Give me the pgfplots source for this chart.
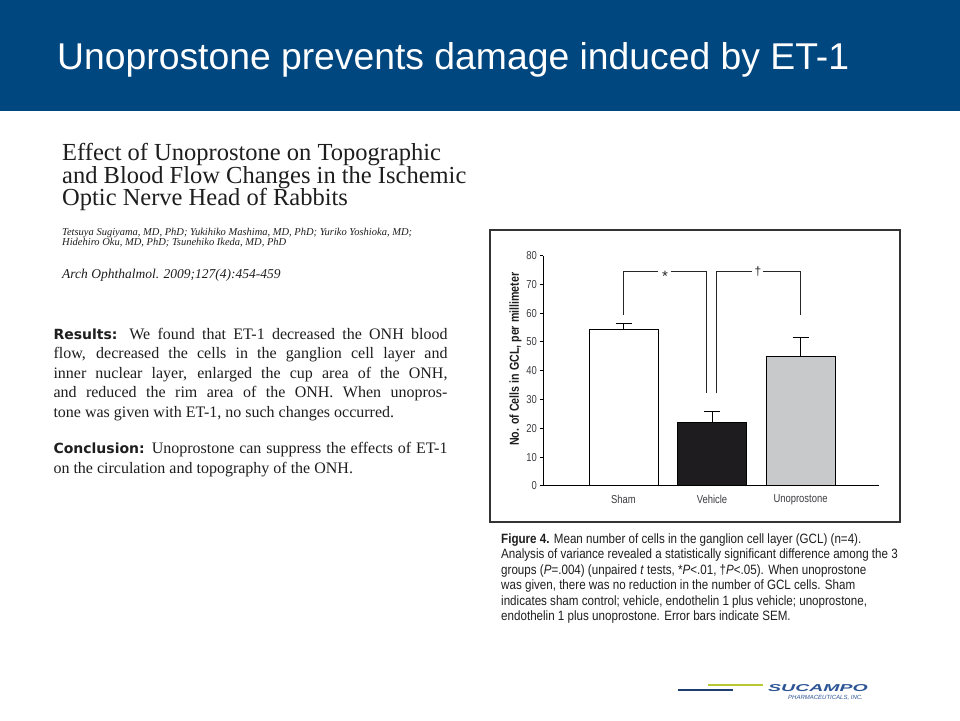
\documentclass[border=0pt]{standalone}
\usepackage{fontspec}
\setmainfont{Liberation Serif}
\newfontfamily\arial{Liberation Sans}
\newfontfamily\narrow[FakeStretch=0.82]{Liberation Sans}
\newfontfamily\capt[FakeStretch=0.86]{Liberation Sans}
\newfontfamily\dvb{DejaVu Sans}
\usepackage{pgfplots}
\pgfplotsset{compat=1.18}
\definecolor{hdr}{RGB}{0,70,127}
\definecolor{txt}{RGB}{30,30,30}
\definecolor{tick}{RGB}{60,60,64}
\definecolor{ugray}{RGB}{200,201,203}
\definecolor{barblack}{RGB}{30,28,30}
\definecolor{logoblue}{RGB}{30,62,112}
\definecolor{logotext}{RGB}{45,85,150}
\definecolor{logogreen}{RGB}{184,200,50}
\newcommand{\res}[1]{{\dvb\bfseries\fontsize{14}{16}\selectfont #1}}
\begin{document}
\begin{tikzpicture}
\fill[white] (0,0) rectangle (960pt,720pt);
\path[use as bounding box] (0,0) rectangle (960pt,720pt);
\fill[hdr] (0,609pt) rectangle (960pt,720pt);
\node[anchor=base west, inner sep=0, text=white, font=\arial\fontsize{37.3}{40}\selectfont] at (57pt,650pt) {Unoprostone prevents damage induced by ET-1};
% left title
\begin{scope}[every node/.style={anchor=base west, inner sep=0, text=txt}]
\node[font=\fontsize{24.5}{26}\selectfont] at (62pt,559.5pt) {Effect of Unoprostone on Topographic};
\node[font=\fontsize{24.5}{26}\selectfont] at (62pt,536.5pt) {and Blood Flow Changes in the Ischemic};
\node[font=\fontsize{24.5}{26}\selectfont] at (62pt,514pt) {Optic Nerve Head of Rabbits};
\node[font=\itshape\fontsize{10.5}{12}\selectfont] at (62pt,484.7pt) {Tetsuya Sugiyama, MD, PhD; Yukihiko Mashima, MD, PhD; Yuriko Yoshioka, MD;};
\node[font=\itshape\fontsize{10.5}{12}\selectfont] at (62pt,474pt) {Hidehiro Oku, MD, PhD; Tsunehiko Ikeda, MD, PhD};
\node[font=\itshape\fontsize{13.5}{15}\selectfont] at (62pt,441pt) {Arch Ophthalmol. 2009;127(4):454-459};
\node[font=\fontsize{16}{18}\selectfont] at (53.3pt,380.7pt) {\makebox[394pt][s]{\res{Results:} We found that ET-1 decreased the ONH blood}};
\node[font=\fontsize{16}{18}\selectfont] at (53.3pt,361pt) {\makebox[394pt][s]{flow, decreased the cells in the ganglion cell layer and}};
\node[font=\fontsize{16}{18}\selectfont] at (53.3pt,341.7pt) {\makebox[394pt][s]{inner nuclear layer, enlarged the cup area of the ONH,}};
\node[font=\fontsize{16}{18}\selectfont] at (53.3pt,322.3pt) {\makebox[394pt][s]{and reduced the rim area of the ONH. When unopros-}};
\node[font=\fontsize{16}{18}\selectfont] at (53.3pt,302.7pt) {tone was given with ET-1, no such changes occurred.};
\node[font=\fontsize{16}{18}\selectfont] at (53.3pt,266pt) {\makebox[394pt][s]{\res{Conclusion:} Unoprostone can suppress the effects of ET-1}};
\node[font=\fontsize{16}{18}\selectfont] at (53.3pt,246.7pt) {on the circulation and topography of the ONH.};
% caption
\node[font=\capt\fontsize{13.5}{14}\selectfont] at (501pt,176.7pt) {\textbf{Figure 4.} Mean number of cells in the ganglion cell layer (GCL) (n=4).};
\node[font=\capt\fontsize{13.5}{14}\selectfont] at (501pt,161pt) {Analysis of variance revealed a statistically significant difference among the 3};
\node[font=\capt\fontsize{13.5}{14}\selectfont] at (501pt,145.7pt) {groups (\textit{P}=.004) (unpaired \textit{t} tests, *\textit{P}<.01, †\textit{P}<.05). When unoprostone};
\node[font=\capt\fontsize{13.5}{14}\selectfont] at (501pt,130.3pt) {was given, there was no reduction in the number of GCL cells. Sham};
\node[font=\capt\fontsize{13.5}{14}\selectfont] at (501pt,115pt) {indicates sham control; vehicle, endothelin 1 plus vehicle; unoprostone,};
\node[font=\capt\fontsize{13.5}{14}\selectfont] at (501pt,99.3pt) {endothelin 1 plus unoprostone. Error bars indicate SEM.};
\end{scope}
% chart frame
\draw[line width=1.1pt, black!80] (490pt,490pt) rectangle (900pt,198pt);
\begin{axis}[
  at={(543.3pt,234pt)}, anchor=south west,
  scale only axis, width=336pt, height=230.4pt,
  xmin=-0.906, xmax=2.89, ymin=0, ymax=80,
  axis x line=bottom, axis y line=left,
  axis line style={-, line width=1pt, black},
  xtick={0,1,2}, xticklabels={Sham,Vehicle,Unoprostone},
  x tick style={draw=none},
  ytick={0,10,...,80},
  y tick style={line width=1pt, black},
  major tick length=3.5pt, tick align=outside,
  ticklabel style={font=\narrow\fontsize{11.5}{12}\selectfont, text=tick},
  yticklabel style={xshift=0.5pt},
  xticklabel style={yshift=-2pt},
  /pgf/number format/assume math mode=true,
  ylabel={No. of Cells in GCL, per millimeter},
  ylabel style={font=\narrow\bfseries\fontsize{13}{14}\selectfont, text=txt, at={(axis description cs:-0.083,0.55)}, anchor=center},
  clip=false,
]
\addplot[ybar, bar width=69pt, bar shift=0pt, fill=white, draw=black, line width=1pt,
  error bars/.cd, y dir=plus, y explicit, error bar style={line width=1pt, black},
  error mark options={rotate=90, mark size=8pt, line width=1pt, black}]
  coordinates {(0,54.3) +- (0,2.2)};
\addplot[ybar, bar width=69pt, bar shift=0pt, fill=barblack, draw=black, line width=1pt,
  error bars/.cd, y dir=plus, y explicit, error bar style={line width=1pt, black},
  error mark options={rotate=90, mark size=8pt, line width=1pt, black}]
  coordinates {(1,22.2) +- (0,3.6)};
\addplot[ybar, bar width=69pt, bar shift=0pt, fill=ugray, draw=black, line width=1pt,
  error bars/.cd, y dir=plus, y explicit, error bar style={line width=1pt, black},
  error mark options={rotate=90, mark size=8pt, line width=1pt, black}]
  coordinates {(2,44.8) +- (0,6.9)};
% significance brackets
\addplot[black!85, line width=1pt, no marks] coordinates {(0,59.5) (0,74.4) (0.39,74.4)};
\addplot[black!85, line width=1pt, no marks] coordinates {(0.54,74.4) (0.94,74.4) (0.94,32.2)};
\addplot[black!85, line width=1pt, no marks] coordinates {(1.053,32.2) (1.053,74.4) (1.45,74.4)};
\addplot[black!85, line width=1pt, no marks] coordinates {(1.58,74.4) (1.994,74.4) (1.994,59.5)};
\node[font=\arial\fontsize{15}{15}\selectfont, text=black!85] at (axis cs:0.47,72.8) {*};
\node[font=\arial\fontsize{12}{12}\selectfont, text=black!85] at (axis cs:1.52,74.6) {†};
\end{axis}
% logo
\draw[logoblue, line width=2.8pt] (678pt,30pt) -- (733pt,30pt);
\draw[logogreen, line width=2.8pt] (708pt,35pt) -- (763pt,35pt);
\node[anchor=base west, inner sep=0, text=logotext, font=\arial\bfseries\itshape\fontsize{10}{10}\selectfont] at (768pt,29pt) {\scalebox{1.95}[1]{SUCAMPO}};
\node[anchor=base west, inner sep=0, text=logotext, font=\arial\itshape\fontsize{6}{6}\selectfont] at (788pt,20.5pt) {PHARMACEUTICALS, INC.};
\end{tikzpicture}
\end{document}
